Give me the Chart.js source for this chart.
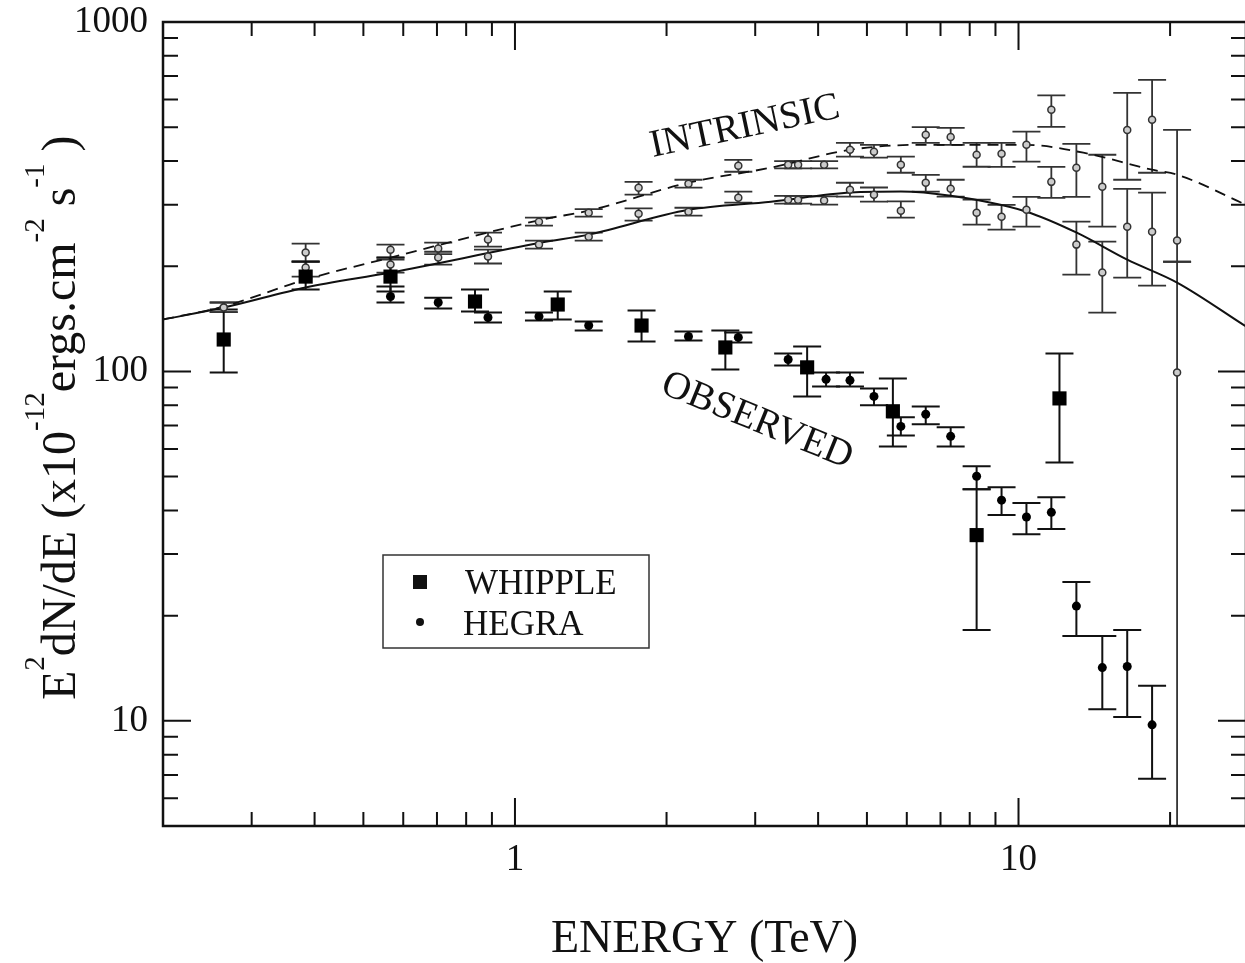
<!DOCTYPE html>
<html>
<head>
<meta charset="utf-8">
<script src="https://cdn.jsdelivr.net/npm/chart.js@4.4.1/dist/chart.umd.min.js"></script>
<style>
  html, body { margin: 0; padding: 0; background: #fff; overflow: hidden; }
</style>
</head>
<body>
<canvas id="sedChart" width="1250" height="963"></canvas>
<script>
// energies in TeV, fluxes as E^2 dN/dE in 1e-12 erg cm^-2 s^-1
const whippleE  = [0.264, 0.384, 0.566, 0.833, 1.216, 1.784, 2.617, 3.804, 5.63, 8.257, 12.06];
const whippleF  = [123.4, 186.8, 186.8, 158.5, 155.4, 135.3, 117.1, 102.7, 76.9, 34.0, 83.7];
const whippleLo = [99.3, 171.5, 169.2, 148.4, 140.8, 121.8, 101.3, 84.8, 61.0, 18.2, 54.9];
const whippleHi = [150.4, 206.2, 211.7, 171.5, 169.2, 149.4, 130.9, 117.9, 95.5, 46.0, 112.6];

const hegraE  = [0.566, 0.704, 0.884, 1.116, 1.401, 2.211, 2.777, 3.488, 4.148, 4.627, 5.164, 5.839,
                 6.543, 7.333, 8.257, 9.254, 10.37, 11.62, 13.03, 14.67, 16.44, 18.42];
const hegraF  = [163.8, 157.5, 142.7, 143.6, 135.3, 125.9, 125.1, 108.2, 94.9, 94.3, 84.8, 69.6,
                 75.4, 65.2, 50.1, 42.8, 38.3, 39.5, 21.3, 14.2, 14.3, 9.74];
const hegraLo = [157.5, 151.4, 138.0, 139.9, 130.9, 122.6, 121.0, 104.0, 90.6, 90.6, 80.0, 65.6,
                 70.6, 61.0, 46.0, 38.8, 34.2, 35.4, 17.5, 10.8, 10.26, 6.83];
const hegraHi = [175.0, 162.6, 147.4, 147.4, 139.0, 130.1, 129.2, 112.6, 99.3, 99.3, 89.4, 73.9,
                 79.4, 69.2, 53.5, 46.6, 42.0, 43.65, 24.95, 17.5, 18.2, 12.6];

// de-absorbed points, two absorption models
const intrinsicE = [0.264, 0.384, 0.566, 0.704, 0.884, 1.116, 1.401, 1.76, 2.211, 2.777, 3.488, 3.65, 4.111,
                    4.627, 5.164, 5.839, 6.543, 7.333, 8.257, 9.254, 10.37, 11.62, 13.03, 14.67, 16.44, 18.42, 20.65];
const intrinsicHighF  = [152.3, 218.8, 223.0, 224.6, 238.4, 268.3, 284.6, 335.6, 344.5, 388.0, 390.4, 390.4, 390.4,
                         431.0, 425.0, 390.4, 475.5, 469.0, 417.0, 420.0, 445.0, 560.6, 383.0, 337.8, 491.0, 524.8, 236.8];
const intrinsicHighLo = [147.8, 206.0, 211.7, 216.6, 227.5, 261.3, 277.3, 320.5, 335.6, 372.8, 381.0, 381.0, 381.0,
                         412.0, 409.0, 370.3, 451.0, 445.0, 385.3, 385.0, 398.7, 501.0, 316.0, 259.5, 353.6, 370.3, 206.0];
const intrinsicHighHi = [157.5, 232.0, 230.6, 233.7, 249.6, 275.6, 291.5, 348.7, 353.6, 403.0, 400.0, 400.0, 400.0,
                         451.0, 445.0, 412.0, 500.0, 498.0, 451.0, 451.0, 485.5, 617.0, 448.0, 417.0, 627.0, 682.8, 491.0];
const intrinsicLowF  = [152.3, 198.2, 202.2, 211.7, 213.1, 230.6, 243.0, 282.8, 286.5, 314.3, 310.0, 310.0, 308.5,
                        331.0, 320.5, 288.4, 346.7, 333.4, 284.6, 277.3, 290.0, 348.7, 230.6, 191.8, 259.5, 251.2, 99.3];
const intrinsicLowLo = [147.8, 186.8, 191.8, 202.2, 203.6, 224.6, 236.8, 270.0, 279.0, 304.0, 302.0, 302.0, 300.0,
                        316.3, 306.0, 275.5, 326.8, 316.3, 263.0, 254.6, 259.5, 314.0, 189.3, 147.4, 185.6, 176.0, 1.0];
const intrinsicLowHi = [157.5, 206.2, 209.0, 220.0, 223.0, 236.8, 249.6, 293.0, 294.0, 326.8, 318.0, 318.0, 317.0,
                        346.7, 336.0, 306.5, 365.0, 353.6, 310.0, 299.6, 316.0, 385.0, 268.3, 235.1, 333.0, 324.7, 206.0];

// model curves
const dashedCurveE = [0.2, 0.264, 0.384, 0.566, 1.131, 1.401, 2.211, 3.225, 4.648, 6.31, 10.37, 13.45, 18.42, 20.65, 28.3];
const dashedCurveF = [140.8, 153.4, 183.2, 211.7, 271.9, 288.4, 346.7, 383.0, 431.0, 445.0, 445.0, 422.5, 377.8, 365.6, 299.9];
const solidCurveE  = [0.2, 0.264, 0.384, 0.566, 1.131, 1.401, 2.211, 3.225, 4.648, 5.839, 7.333, 10.37, 13.05, 16.44, 20.65, 28.3];
const solidCurveF  = [140.8, 152.3, 173.8, 191.8, 233.7, 246.3, 290.0, 306.0, 325.0, 327.0, 318.0, 286.5, 249.5, 208.9, 179.6, 134.5];

// axis ticks
const xTickLabels = [1, 10];
const xMinorTicks = [0.3, 0.4, 0.5, 0.6, 0.7, 0.8, 0.9, 2, 3, 4, 5, 6, 7, 8, 9, 20];
const yTickLabels = [10, 100, 1000];
const yMinorTicks = [6, 7, 8, 9, 20, 30, 40, 50, 60, 70, 80, 90, 200, 300, 400, 500, 600, 700, 800, 900];

const serif = "'Liberation Serif', 'DejaVu Serif', serif";
const toPoints = (xs, ys) => xs.map((v, i) => ({ x: v, y: ys[i] }));

// vertical error bars with caps, drawn under the markers
const errorBars = {
    id: 'errorBars',
    beforeDatasetsDraw(chart) {
        const { ctx, chartArea: a, scales: { x, y } } = chart;
        ctx.save();
        ctx.beginPath();
        ctx.rect(a.left, a.top, a.right - a.left, a.bottom - a.top);
        ctx.clip();
        chart.data.datasets.slice().reverse().forEach(ds => {
            if (!ds.errLo) return;
            ctx.strokeStyle = ds.errColor;
            ctx.lineWidth = ds.errWidth;
            const cap = 14;
            ds.data.forEach((p, j) => {
                const px = x.getPixelForValue(p.x);
                const yLo = y.getPixelForValue(ds.errLo[j]);
                const yHi = y.getPixelForValue(ds.errHi[j]);
                ctx.beginPath();
                ctx.moveTo(px, yLo);
                ctx.lineTo(px, yHi);
                ctx.moveTo(px - cap, yHi);
                ctx.lineTo(px + cap, yHi);
                if (yLo < a.bottom) {
                    ctx.moveTo(px - cap, yLo);
                    ctx.lineTo(px + cap, yLo);
                }
                ctx.stroke();
            });
        });
        ctx.restore();
    }
};

// box frame with inward ticks on all four sides, y title, labels, legend
const decorations = {
    id: 'decorations',
    afterDraw(chart) {
        const { ctx, chartArea: a, scales: { x, y } } = chart;
        ctx.save();
        ctx.strokeStyle = '#111';
        ctx.lineWidth = 2;
        const tick = (vals, len) => {
            vals.forEach(v => {
                const px = x.getPixelForValue(v);
                if (px > a.left + 1 && px < a.right - 1) {
                    ctx.moveTo(px, a.bottom); ctx.lineTo(px, a.bottom - len);
                    ctx.moveTo(px, a.top); ctx.lineTo(px, a.top + len);
                }
            });
        };
        const ytick = (vals, len) => {
            vals.forEach(v => {
                const py = y.getPixelForValue(v);
                if (py > a.top + 1 && py < a.bottom - 1) {
                    ctx.moveTo(a.left, py); ctx.lineTo(a.left + len, py);
                    ctx.moveTo(a.right, py); ctx.lineTo(a.right - len, py);
                }
            });
        };
        ctx.beginPath();
        tick(xTickLabels, 28);
        tick(xMinorTicks, 14);
        ytick(yTickLabels, 28);
        ytick(yMinorTicks, 15);
        ctx.stroke();
        ctx.lineWidth = 2.5;
        ctx.strokeRect(a.left, a.top, a.right - a.left, a.bottom - a.top);

        // y axis title with superscripts
        ctx.fillStyle = '#111';
        ctx.translate(75, 700);
        ctx.rotate(-Math.PI / 2);
        ctx.textBaseline = 'alphabetic';
        const parts = [['E', 0], ['2', 1], ['dN/dE (x10', 0], ['-12', 1], ['ergs.cm', 0], ['-2', 1], [' s', 0], ['-1', 1], [' )', 0]];
        let cx = 0;
        parts.forEach(([t, sup]) => {
            ctx.font = sup ? '29px ' + serif : '48px ' + serif;
            ctx.fillText(t, cx, sup ? -31 : 0);
            cx += ctx.measureText(t).width;
        });
        ctx.setTransform(1, 0, 0, 1, 0, 0);

        // curve labels
        ctx.font = '39px ' + serif;
        ctx.textAlign = 'center';
        ctx.textBaseline = 'middle';
        ctx.save();
        ctx.translate(745, 127);
        ctx.rotate(-12 * Math.PI / 180);
        ctx.fillText('INTRINSIC', 0, 0);
        ctx.restore();
        ctx.save();
        ctx.translate(757, 421);
        ctx.rotate(22 * Math.PI / 180);
        ctx.fillText('OBSERVED', 0, 0);
        ctx.restore();

        // legend box
        ctx.lineWidth = 1.5;
        ctx.strokeStyle = '#333';
        ctx.strokeRect(383, 555, 266, 93);
        ctx.fillRect(413, 575, 14, 14);
        ctx.beginPath();
        ctx.arc(420, 622, 4, 0, Math.PI * 2);
        ctx.fill();
        ctx.textAlign = 'left';
        ctx.textBaseline = 'alphabetic';
        ctx.font = '35px ' + serif;
        ctx.fillText('WHIPPLE', 465, 594);
        ctx.fillText('HEGRA', 463, 635);
        ctx.restore();
    }
};

const ctx = document.getElementById('sedChart').getContext('2d');
new Chart(ctx, {
    type: 'scatter',
    data: {
        datasets: [
            {
                label: 'WHIPPLE',
                data: toPoints(whippleE, whippleF),
                errLo: whippleLo, errHi: whippleHi, errColor: '#111', errWidth: 2,
                pointStyle: 'rect', pointRadius: 10, backgroundColor: '#000', borderColor: '#000', borderWidth: 0
            },
            {
                label: 'HEGRA',
                data: toPoints(hegraE, hegraF),
                errLo: hegraLo, errHi: hegraHi, errColor: '#111', errWidth: 2,
                pointStyle: 'circle', pointRadius: 4.5, backgroundColor: '#000', borderColor: '#000', borderWidth: 0
            },
            {
                label: 'Intrinsic (high)',
                data: toPoints(intrinsicE, intrinsicHighF),
                errLo: intrinsicHighLo, errHi: intrinsicHighHi, errColor: '#333', errWidth: 1.8,
                pointStyle: 'circle', pointRadius: 3.5, backgroundColor: '#ccc', borderColor: '#333', borderWidth: 1.5
            },
            {
                label: 'Intrinsic (low)',
                data: toPoints(intrinsicE, intrinsicLowF),
                errLo: intrinsicLowLo, errHi: intrinsicLowHi, errColor: '#333', errWidth: 1.8,
                pointStyle: 'circle', pointRadius: 3.5, backgroundColor: '#ccc', borderColor: '#333', borderWidth: 1.5
            },
            {
                label: 'dashed model',
                data: toPoints(dashedCurveE, dashedCurveF),
                showLine: true, pointRadius: 0, borderColor: '#111', borderWidth: 1.8,
                borderDash: [11, 7], cubicInterpolationMode: 'monotone'
            },
            {
                label: 'solid model',
                data: toPoints(solidCurveE, solidCurveF),
                showLine: true, pointRadius: 0, borderColor: '#111', borderWidth: 2,
                cubicInterpolationMode: 'monotone'
            }
        ]
    },
    options: {
        responsive: false,
        animation: false,
        layout: { autoPadding: false, padding: { top: 22, right: 4, left: 0, bottom: 0 } },
        plugins: {
            legend: { display: false },
            tooltip: { enabled: false }
        },
        scales: {
            x: {
                type: 'logarithmic',
                min: 0.2,
                max: 28.3,
                grid: { display: false, drawTicks: false },
                border: { display: false },
                afterBuildTicks: scale => { scale.ticks = xTickLabels.map(v => ({ value: v })); },
                afterFit: scale => {
                    scale.height = 137;
                    scale.paddingLeft = 0;
                    scale.paddingRight = 0;
                },
                ticks: {
                    autoSkip: false,
                    maxRotation: 0,
                    padding: 12,
                    color: '#111',
                    font: { family: serif, size: 37 },
                    callback: v => String(v)
                },
                title: {
                    display: true,
                    text: 'ENERGY (TeV)',
                    color: '#111',
                    font: { family: serif, size: 46, lineHeight: 1 },
                    padding: { top: 0, bottom: 0 }
                }
            },
            y: {
                type: 'logarithmic',
                min: 5,
                max: 1000,
                grid: { display: false, drawTicks: false },
                border: { display: false },
                afterBuildTicks: scale => { scale.ticks = yTickLabels.map(v => ({ value: v })); },
                afterFit: scale => {
                    scale.width = 163;
                    scale.paddingTop = 0;
                    scale.paddingBottom = 0;
                },
                ticks: {
                    autoSkip: false,
                    padding: 15,
                    color: '#111',
                    font: { family: serif, size: 37 },
                    callback: v => String(v)
                }
            }
        }
    },
    plugins: [errorBars, decorations]
});
</script>
</body>
</html>
